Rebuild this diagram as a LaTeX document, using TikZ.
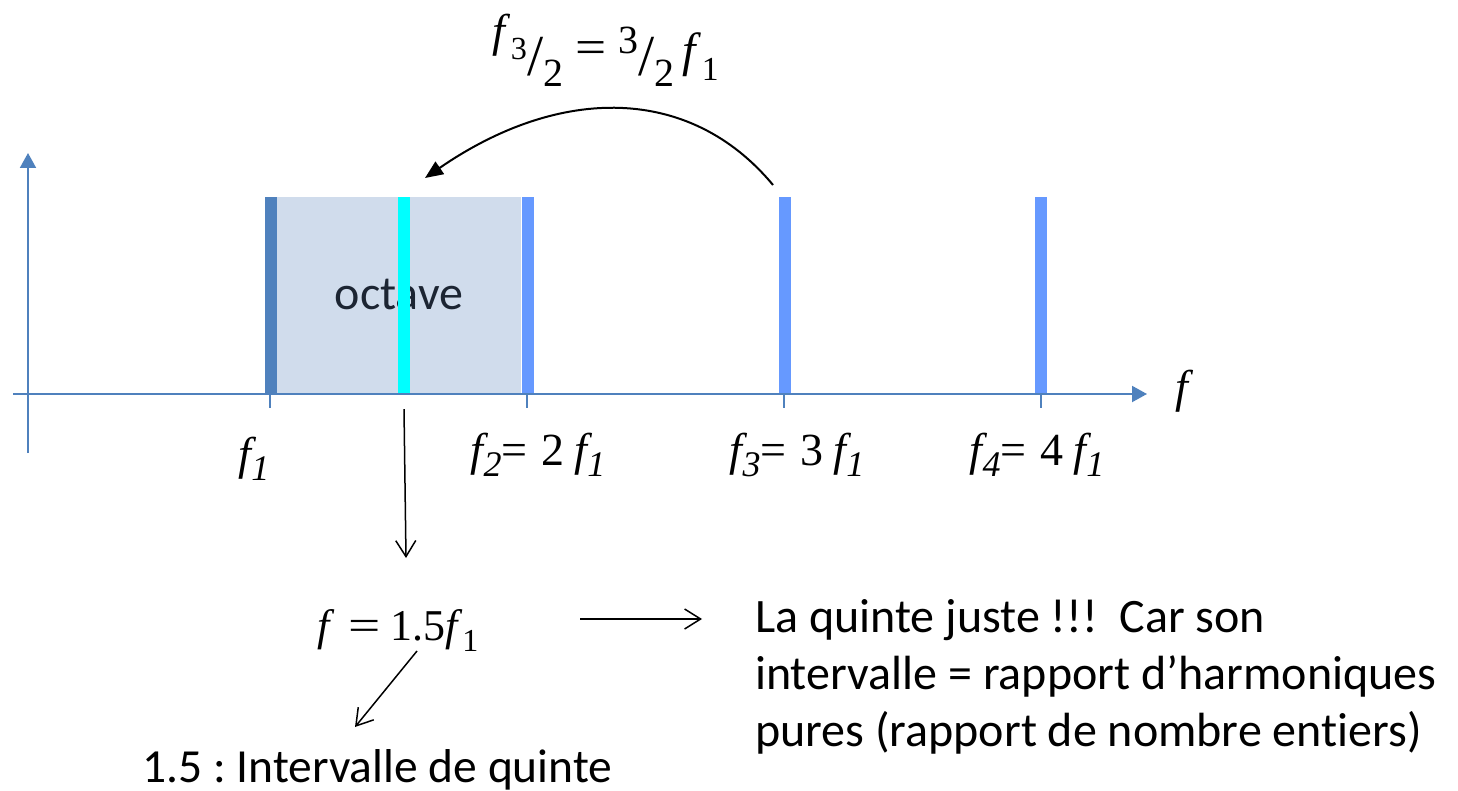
\documentclass[tikz,border=0pt]{standalone}
\usepackage{fontspec}
\setmainfont{Carlito}[Ligatures=NoCommon]
\newfontfamily\timesfont{Liberation Serif}
\usetikzlibrary{arrows.meta, positioning}
\definecolor{axisblue}{HTML}{4F81BD}
\definecolor{harmblue}{HTML}{6699FF}
\definecolor{quintecyan}{HTML}{00FFFF}
\definecolor{octfill}{HTML}{D0DCEC}
\definecolor{octtext}{HTML}{1C2533}
\newcommand{\fit}[1]{\textit{f}\textsubscript{#1}}
\newcommand{\lsub}[1]{\raisebox{-0.25em}{\fontsize{36}{38}\selectfont#1}}
\tikzset{
	axisline/.style={draw=axisblue, line width=2pt},
	harm/.style={fill=harmblue, inner sep=0pt, minimum width=12pt, minimum height=196pt},
	tickline/.style={draw=axisblue, line width=2pt},
	flabel/.style={font=\timesfont\fontsize{46}{50}\selectfont\itshape},
	note/.style={font=\frenchspacing\fontsize{48}{57}\selectfont, align=left, inner sep=0pt},
	mathlbl/.style={font=\timesfont\fontsize{44}{50}\selectfont},
	parr/.style={-{Straight Barb[length=16pt,width=20pt]}, line width=1.5pt}
}

\begin{document}
\begin{tikzpicture}[x=1pt, y=-1pt]
	\useasboundingbox (0,0) rectangle (1458,791);
	% octave band and harmonics
	\node[fill=octfill, minimum width=244pt, minimum height=196pt, inner sep=0pt,
		font=\fontsize{48}{56}\selectfont, text=octtext] (oct) at (399,295) {octave};
	\node[harm, fill=axisblue] (h1) at (271,295) {};
	\node[harm] (h2) at (528,295) {};
	\node[harm] (h3) at (785,295) {};
	\node[harm] (h4) at (1041,295) {};
	\node[harm, fill=quintecyan] (q5) at (404,295) {};
	% axes
	\draw[axisline, -{Triangle[length=15pt,width=16pt]}] (28,453) -- (28,153);
	\draw[axisline, -{Triangle[length=15pt,width=16pt]}] (13,394) -- (1147,394);
	\foreach \x in {270,527,784,1041}
		\draw[tickline] (\x,394) -- (\x,408);
	\node[flabel] (fx) at (1182,391) {f};
	% harmonic labels
	\node[flabel, anchor=base] (l1) at (254,469) {f\lsub{1}};
	\node[flabel, anchor=base] (l2) at (538,465) {f\lsub{2}{\upshape=\hspace{14pt}2}\hspace{10pt}f\lsub{1}};
	\node[flabel, anchor=base] (l3) at (797,465) {f\lsub{3}{\upshape=\hspace{14pt}3}\hspace{10pt}f\lsub{1}};
	\node[flabel, anchor=base] (l4) at (1037,465) {f\lsub{4}{\upshape=\hspace{14pt}4}\hspace{10pt}f\lsub{1}};
	% folding f3 back into the octave
	\node[anchor=base, font=\timesfont\fontsize{48}{50}\selectfont] (ratio) at (606,67) {%
		\raisebox{20pt}{\fontsize{46}{48}\selectfont\fit{3}}%
		\raisebox{-9pt}{\fontsize{58}{60}\selectfont/}%
		\raisebox{-20pt}{\fontsize{40}{42}\selectfont 2}%
		\hspace{12pt}\raisebox{3pt}{\scalebox{1.15}[1]{=}}\hspace{12pt}%
		\raisebox{13pt}{\fontsize{40}{42}\selectfont 3}%
		\raisebox{-9pt}{\fontsize{58}{60}\selectfont/}%
		\raisebox{-20pt}{\fontsize{40}{42}\selectfont 2}%
		\,\fit{1}};
	\coordinate (c3) at (773,185);
	\coordinate (c5) at (425,178);
	\draw[line width=2pt, -{Triangle[length=18pt,width=15pt]}] (c3) .. controls (690,85) and (560,85) .. (c5);
	% result
	\coordinate (d5) at (406,558);
	\draw[parr] ([yshift=-16pt]q5.south) -- (d5);
	\node[mathlbl, anchor=base] (fq) at (398,640)
		{\textit{f}\hspace{14pt}\scalebox{1.3}[1]{=}\hspace{9pt}1.5\textit{f}\raisebox{-.25em}{\fontsize{32}{34}\selectfont 1}};
	\coordinate (r1) at (580,619);
	\coordinate (r2) at (702,619);
	\draw[parr] (r1) -- (r2);
	\coordinate (s1) at (417,651);
	\coordinate (s2) at (355,727);
	\draw[parr] (s1) -- (s2);
	\node[note, font=\frenchspacing\fontsize{47.5}{57}\selectfont, anchor=base west] (iq) at (142,782) {1.5 : Intervalle de quinte};
	\node[note, anchor=north west] (why) at (755,599)
		{La quinte juste !!!~~Car son\\intervalle = rapport d’harmoniques\\pures (rapport de nombre entiers)};
\end{tikzpicture}
\end{document}
